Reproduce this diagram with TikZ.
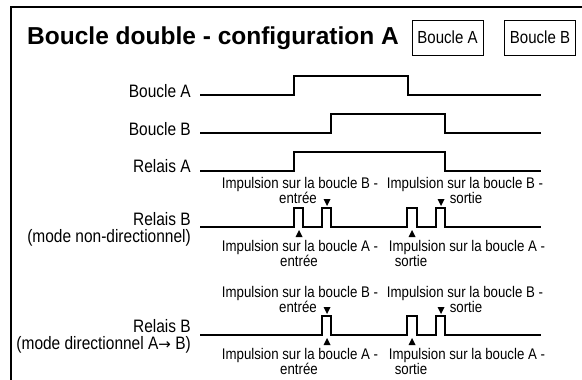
\documentclass[tikz,border=0pt]{standalone}
\usepackage{fontspec}
\setmainfont{Liberation Sans}[FakeStretch=0.86]
\newfontfamily\titrefont{Liberation Sans}
\newfontfamily\flechefont{DejaVu Sans}

\tikzset{
  sig/.style={line width=1.7pt, line join=miter},
  lab/.style={anchor=base east, inner sep=0pt, font=\fontsize{18}{20}\selectfont},
  imp/.style={anchor=base, inner sep=0pt, font=\fontsize{15.4}{16}\selectfont},
  boite/.style={draw, line width=1pt, inner sep=0pt, minimum width=71pt, minimum height=35pt, font=\fontsize{17.5}{18}\selectfont}
}
\newcommand{\flechebas}[2]{\fill (#1-3.5,#2) -- (#1+3.5,#2) -- (#1,#2+7) -- cycle;}
\newcommand{\flechehaut}[2]{\fill (#1-3.5,#2) -- (#1+3.5,#2) -- (#1,#2-7) -- cycle;}

\begin{document}
\begin{tikzpicture}[x=1pt, y=-1pt]
\useasboundingbox (0,0) rectangle (582,380);
\clip (0,0) rectangle (582,380);
% cadre
\draw [line width=1.6pt] (11,400) -- (11,7) -- (600,7);
% titre et legende
\node [anchor=base west, inner sep=0pt, font=\titrefont\bfseries\fontsize{24.5}{26}\selectfont] (titre) at (27,44) {Boucle double - configuration A};
\node [boite] (boiteA) at (447.5,37.5) {Boucle A};
\node [boite] (boiteB) at (540,37.5) {Boucle B};
% noms des signaux
\node [lab] (bA) at (191,97) {Boucle A};
\node [lab] (bB) at (191,135) {Boucle B};
\node [lab] (rA) at (191,172) {Relais A};
\node [lab] (rB) at (191,225) {Relais B};
\node [lab] (rBnd) at (191,242) {(mode non-directionnel)};
\node [lab] (rBd) at (191,332) {Relais B};
\node [lab] (rBdir) at (191,349) {(mode directionnel A{\flechefont\fontsize{15}{16}\selectfont →}\ B)};
% signaux
\draw [sig] (200,95) -| (294,76) -| (408,95) -- (541,95);
\draw [sig] (200,133) -| (331,114) -| (445,133) -- (541,133);
\draw [sig] (200,171) -| (294,152) -| (445,171) -- (541,171);
\draw [sig] (200,227) -| (294,208) -| (303,227) -| (322,208) -| (331,227) -| (407,208) -| (417,227) -| (436,208) -| (445,227) -- (541,227);
\draw [sig] (200,335) -| (322,316) -| (331,335) -| (407,316) -| (417,335) -| (436,316) -| (445,335) -- (541,335);
% impulsions, mode non-directionnel
\node [imp] (impB1) at (300,188) {Impulsion sur la boucle B -};
\node [imp] (entB1) at (298,203) {entrée};
\node [imp] (impB2) at (465,188) {Impulsion sur la boucle B -};
\node [imp] (sorB2) at (466,203) {sortie};
\flechebas{327}{199} \flechebas{441}{199}
\flechehaut{299}{237} \flechehaut{412}{237}
\node [imp] (impA1) at (300,251) {Impulsion sur la boucle A -};
\node [imp] (entA1) at (299,266) {entrée};
\node [imp] (impA2) at (467,251) {Impulsion sur la boucle A -};
\node [imp] (sorA2) at (411,266) {sortie};
% impulsions, mode directionnel
\node [imp] (impB3) at (300,297) {Impulsion sur la boucle B -};
\node [imp] (entB3) at (298,312) {entrée};
\node [imp] (impB4) at (465,297) {Impulsion sur la boucle B -};
\node [imp] (sorB4) at (466,312) {sortie};
\flechebas{327}{307} \flechebas{441}{307}
\flechehaut{327}{345} \flechehaut{412}{345}
\node [imp] (impA3) at (300,359) {Impulsion sur la boucle A -};
\node [imp] (entA3) at (299,374) {entrée};
\node [imp] (impA4) at (467,359) {Impulsion sur la boucle A -};
\node [imp] (sorA4) at (411,374) {sortie};
\end{tikzpicture}
\end{document}
